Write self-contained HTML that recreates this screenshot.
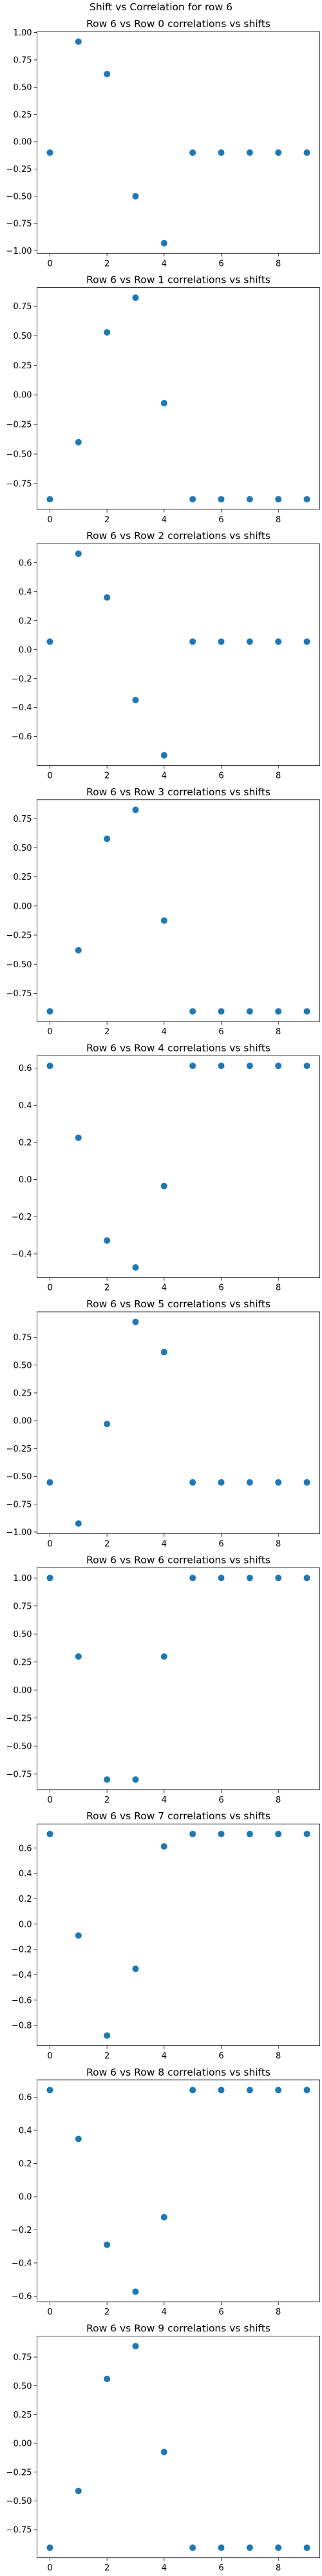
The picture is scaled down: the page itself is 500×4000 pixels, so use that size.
<!DOCTYPE html>
<html><head><meta charset="utf-8">
<style>
html,body{margin:0;padding:0;background:#fff;width:500px;height:4000px;overflow:hidden}
svg text{font-family:"DejaVu Sans","Liberation Sans",sans-serif;fill:#000}
</style></head>
<body>
<svg id="fig" width="500" height="4000" viewBox="0 0 500 4000" xmlns="http://www.w3.org/2000/svg">
<rect width="500" height="4000" fill="#fff"/>
<text x="250" y="16" font-size="15.5" text-anchor="middle">Shift vs Correlation for row 6</text>
</svg>
<script>
const shifts = [0,1,2,3,4,5,6,7,8,9];
const xTicks = [0,2,4,6,8];
const rowIds = [0,1,2,3,4,5,6,7,8,9];
const corr0 = [-0.10,0.917,0.62,-0.50,-0.93,-0.10,-0.10,-0.10,-0.10,-0.10];
const corr1 = [-0.882,-0.40,0.528,0.821,-0.07,-0.882,-0.882,-0.882,-0.882,-0.882];
const corr2 = [0.055,0.662,0.36,-0.349,-0.730,0.055,0.055,0.055,0.055,0.055];
const corr3 = [-0.905,-0.380,0.577,0.826,-0.125,-0.905,-0.905,-0.905,-0.905,-0.905];
const corr4 = [0.612,0.225,-0.328,-0.473,-0.035,0.612,0.612,0.612,0.612,0.612];
const corr5 = [-0.554,-0.923,-0.029,0.888,0.617,-0.554,-0.554,-0.554,-0.554,-0.554];
const corr6 = [1.0,0.299,-0.799,-0.799,0.299,1.0,1.0,1.0,1.0,1.0];
const corr7 = [0.711,-0.090,-0.880,-0.353,0.613,0.711,0.711,0.711,0.711,0.711];
const corr8 = [0.643,0.348,-0.290,-0.573,-0.124,0.643,0.643,0.643,0.643,0.643];
const corr9 = [-0.907,-0.414,0.560,0.845,-0.075,-0.907,-0.907,-0.907,-0.907,-0.907];
const tickSteps = [0.25,0.25,0.2,0.25,0.2,0.25,0.25,0.2,0.2,0.25];

const allSeries = [corr0,corr1,corr2,corr3,corr4,corr5,corr6,corr7,corr8,corr9];
const NS = "http://www.w3.org/2000/svg";
const fig = document.getElementById('fig');
function mk(tag, attrs, parent){
  const e = document.createElementNS(NS, tag);
  for (const k in attrs) e.setAttribute(k, attrs[k]);
  parent.appendChild(e);
  return e;
}
const AX_L = 57.5, AX_R = 496.5, AX_H = 344.3, TOP0 = 49, PERIOD = 397.6;
allSeries.forEach((vals, i) => {
  const top = TOP0 + PERIOD * i, bot = top + AX_H;
  const g = mk('g', {}, fig);
  
  
  const xmin = Math.min(...shifts), xmax = Math.max(...shifts);
  const xpad = (xmax - xmin) * 0.05;
  const x0 = xmin - xpad, x1 = xmax + xpad;
  const ymin = Math.min(...vals), ymax = Math.max(...vals);
  const ypad = (ymax - ymin) * 0.05 || 0.05;
  const y0 = ymin - ypad, y1 = ymax + ypad;
  const sx = v => AX_L + (v - x0) / (x1 - x0) * (AX_R - AX_L);
  const sy = v => bot - (v - y0) / (y1 - y0) * AX_H;
  const t = mk('text', {x: (AX_L + AX_R) / 2, y: top - 7, 'font-size': 15.5, 'text-anchor': 'middle'}, g);
  
  
  t.textContent = 'Row 6 vs Row ' + rowIds[i] + ' correlations vs shifts';
  // y ticks
  const step = tickSteps[i];
  const dec = step === 0.25 ? 2 : 1;
  const kStart = Math.ceil(y0 / step - 1e-9), kEnd = Math.floor(y1 / step + 1e-9);
  for (let k = kStart; k <= kEnd; k++) {
    const v = k * step, y = sy(v);
    const tk = mk('line', {x1: AX_L - 4.9, x2: AX_L, y1: y, y2: y, stroke: '#000', 'stroke-width': 0.8}, g);
    
    
    const lb = mk('text', {x: AX_L - 8, y: y + 4.6, 'font-size': 13, 'text-anchor': 'end'}, g);
    
    
    let s = Math.abs(v).toFixed(dec);
    lb.textContent = (v < -1e-9 ? '\u2212' : '') + s;
  }
  // x ticks
  xTicks.forEach(v => {
    const x = sx(v);
    const tk = mk('line', {x1: x, x2: x, y1: bot, y2: bot + 4.9, stroke: '#000', 'stroke-width': 0.8}, g);
    
    
    const lb = mk('text', {x: x, y: bot + 20, 'font-size': 13, 'text-anchor': 'middle'}, g);
    
    
    lb.textContent = String(v);
  });
  // points
  vals.forEach((v, j) => {
    const c = mk('circle', {cx: sx(shifts[j]), cy: sy(v), r: 5.2, fill: '#1f77b4', stroke: '#fff', 'stroke-width': 0.4}, g);
    
    
  });
  const fr = mk('rect', {x: AX_L, y: top, width: AX_R - AX_L, height: AX_H, fill: 'none', stroke: '#000', 'stroke-width': 0.8}, g);
  
  
});
</script>
</body></html>
